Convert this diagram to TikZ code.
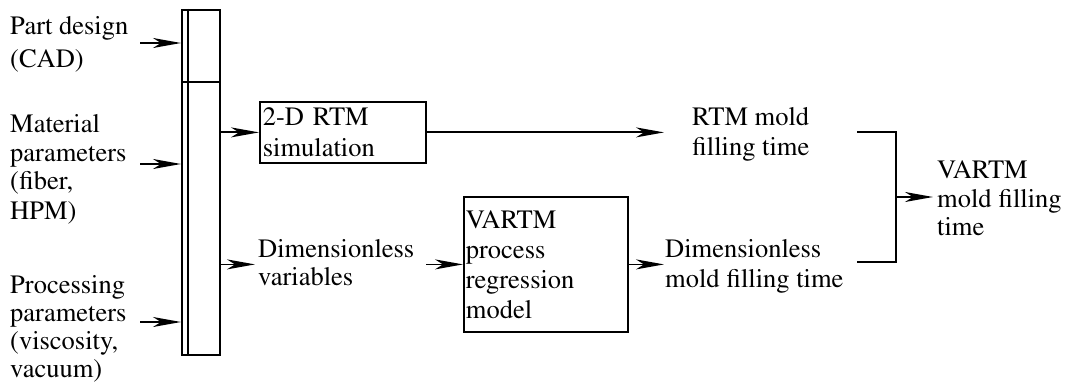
\documentclass[tikz,border=0pt]{standalone}
\usepackage[T1]{fontenc}
\renewcommand\rmdefault{ptm}
\usetikzlibrary{arrows.meta}
% left-aligned block of lines whose baseline is that of its first line
\newcommand\lines[1]{\begin{tabular}[t]{@{}l@{}}#1\end{tabular}}
\tikzset{
  ln/.style={line width=1.8pt},
  arr/.style={ln, -{Stealth[length=28pt,width=10pt,inset=8pt]}},
  txt/.style={anchor=base west, inner sep=0pt},
  box/.style={draw, ln, anchor=north west, align=left, inner ysep=0pt},
}
\begin{document}
\begin{tikzpicture}[x=1pt, y=-1pt, every node/.style={font=\rmfamily\fontsize{26.5}{29}\selectfont}]
\useasboundingbox (0,0) rectangle (1068,385);

% input column
\node[draw, ln, anchor=north west, minimum width=38pt, minimum height=345pt, inner sep=0pt] (bar) at (181,9) {};
\draw[ln] ([xshift=7pt]bar.north west) -- ([xshift=7pt]bar.south west);
\draw[ln] (bar.west |- 0,82) -- (bar.east |- 0,82);

% inputs
\node[txt] (pd) at (10,35) {\lines{Part design\\[4pt](CAD)}};
\node[txt] (mp) at (10,132) {\lines{Material\\parameters\\(fiber,\\HPM)}};
\node[txt, font=\rmfamily\fontsize{26.5}{28}\selectfont] (pp) at (10,293) {\lines{Processing\\parameters\\(viscosity,\\vacuum)}};
\coordinate (i1) at (140,43);
\coordinate (i2) at (140,164);
\coordinate (i3) at (140,322);
\draw[arr] (i1) -- (i1 -| bar.west);
\draw[arr] (i2) -- (i2 -| bar.west);
\draw[arr] (i3) -- (i3 -| bar.west);

% processing blocks
\node[box, font=\rmfamily\fontsize{26.5}{31}\selectfont, inner xsep=3pt, text width=160pt, minimum height=61pt] (sim) at (259,101) {2-D RTM\\simulation};
\node[box, font=\rmfamily\fontsize{26.5}{30}\selectfont, inner xsep=2pt, text width=160pt, minimum height=135pt] (reg) at (463,196) {VARTM\\process\\regression\\model};

\node[txt, font=\rmfamily\fontsize{26.5}{28}\selectfont] (dv) at (258,257) {\lines{Dimensionless\\variables}};
\node[txt] (rtm) at (692,126) {\lines{RTM mold\\filling time}};
\node[txt, font=\rmfamily\fontsize{26.5}{30}\selectfont] (dmft) at (665,257) {\lines{Dimensionless\\mold filling time}};
\node[txt] (out) at (937,178) {\lines{VARTM\\mold filling\\time}};

% flow
\draw[arr] (bar.east |- sim.west) -- (sim.west);
\draw[arr] (bar.east |- reg.west) -- ([xshift=-3pt]dv.west |- reg.west);
\draw[arr] ([xshift=12pt]dv.east |- reg.west) -- (reg.west);
\draw[arr] (reg.east) -- ([xshift=-1pt]dmft.west |- reg.east);
\draw[arr] (sim.east) -- ([xshift=-28pt]rtm.west |- sim.east);

% merge of the two filling times
\coordinate (bt) at (857,132);
\coordinate (bb) at (857,262);
\coordinate (bj) at (896,197);
\draw[ln] (bt) -| (bj) |- (bb);
\draw[arr] (bj) -- ([xshift=-4pt]out.west |- bj);
\end{tikzpicture}
\end{document}
